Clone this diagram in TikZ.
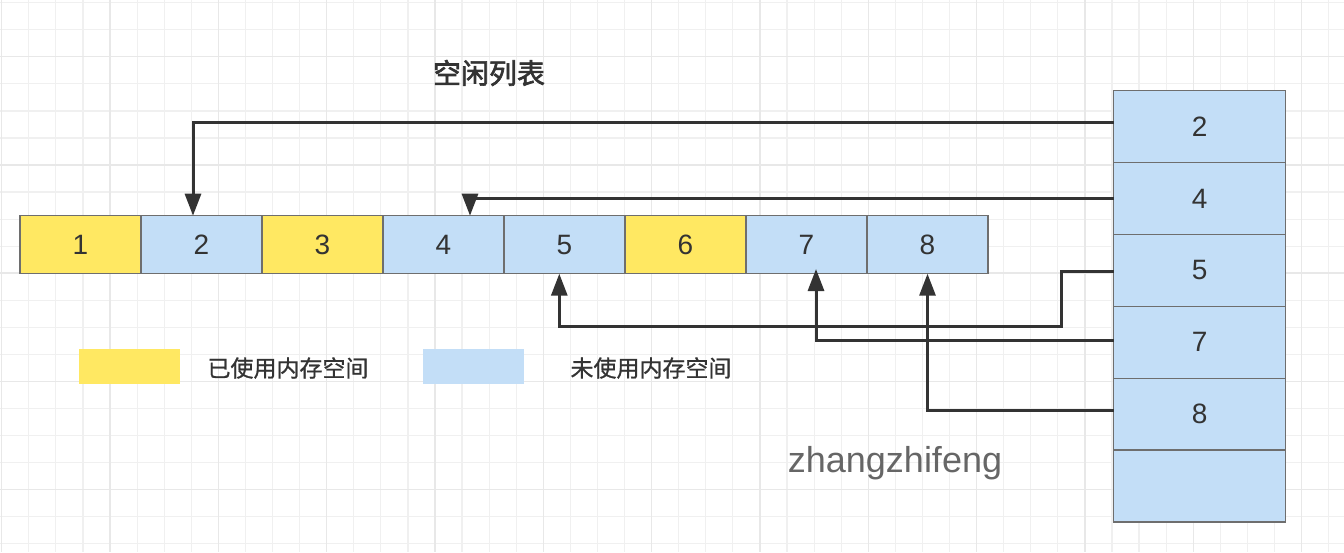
\documentclass[tikz,border=0pt]{standalone}
\usepackage{fontspec}
\setmainfont{Liberation Sans}
\newfontfamily\cjk[FakeBold=0.8]{Noto Sans CJK SC}
\newfontfamily\cjkt[FakeBold=2.2]{Noto Sans CJK SC}
\usetikzlibrary{arrows.meta,calc}
\definecolor{usedY}{HTML}{FFE862}
\definecolor{freeB}{HTML}{C3DEF7}
\definecolor{bord}{HTML}{6E6E6E}
\definecolor{ink}{HTML}{333333}
\definecolor{gridminor}{HTML}{F0F0F0}
\definecolor{gridmajor}{HTML}{E8E8E8}
\tikzset{
  cell/.style={draw=bord,line width=1.5pt,minimum width=121pt,minimum height=58pt,inner sep=0pt,outer sep=0pt,text=ink,font=\fontsize{28}{30}\selectfont,anchor=center},
  usedcell/.style={cell,fill=usedY},
  freecell/.style={cell,fill=freeB},
  listcell/.style={draw=bord,line width=1.5pt,fill=freeB,minimum width=172pt,minimum height=71.9pt,inner sep=0pt,outer sep=0pt,text=ink,font=\fontsize{28}{30}\selectfont},
  conn/.style={draw=ink,line width=3pt,-{Triangle[width=16pt,length=22pt]}},
  gminor/.style={draw=gridminor,line width=1.2pt},
  gmajor/.style={draw=gridmajor,line width=1.3pt},
  legtext/.style={text=ink,font=\cjk\fontsize{23}{25}\selectfont,inner sep=0pt}
}
\begin{document}
\begin{tikzpicture}[x=1pt,y=-1pt]
\useasboundingbox (0,0) rectangle (1344,552);
\fill[white] (0,0) rectangle (1344,552);
% grid
\foreach \i in {0,...,49} \draw[gminor] ({1.7+27.08*\i},0) -- ++(0,552);
\foreach \j in {0,...,20} \draw[gminor] (0,{2.7+27.05*\j}) -- ++(1344,0);
\foreach \i in {0,...,12} \draw[gmajor] ({1.7+108.32*\i},0) -- ++(0,552);
\foreach \j in {0,...,4} \draw[gmajor] (0,{56.7+108.2*\j}) -- ++(1344,0);
% title
\node[text=ink,font=\cjkt\fontsize{28}{30}\selectfont,inner sep=0pt] (title) at (489,73) {空闲列表};
% memory row
\node[usedcell] (c1) at (80.5,244.7) {1};
\node[freecell] (c2) at (201.5,244.7) {2};
\node[usedcell] (c3) at (322.5,244.7) {3};
\node[freecell] (c4) at (443.5,244.7) {4};
\node[freecell] (c5) at (564.5,244.7) {5};
\node[usedcell] (c6) at (685.5,244.7) {6};
\node[freecell] (c7) at (806.5,244.7) {7};
\node[freecell] (c8) at (927.5,244.7) {8};
% free list
\node[listcell] (r2) at (1199.7,126.6) {2};
\node[listcell] (r4) at (1199.7,198.5) {4};
\node[listcell] (r5) at (1199.7,270.4) {5};
\node[listcell] (r7) at (1199.7,342.3) {7};
\node[listcell] (r8) at (1199.7,414.2) {8};
\node[listcell] (r0) at (1199.7,486.1) {};
% legend
\node[fill=usedY,minimum width=101pt,minimum height=35pt,inner sep=0pt] (legU) at (129.5,366.5) {};
\node[legtext] (legUt) at (288,368) {已使用内存空间};
\node[fill=freeB,minimum width=101pt,minimum height=35pt,inner sep=0pt] (legF) at (473.5,366.5) {};
\node[legtext] (legFt) at (651,368) {未使用内存空间};
% watermark
\node[text=black!60,font=\fontsize{36}{38}\selectfont,inner sep=0pt,anchor=base] (wm) at (895,472) {zhangzhifeng};
% connectors
\coordinate (k5) at (1061.7,326);
\draw[conn] ([yshift=4pt]r2.west) -| ([xshift=-8.5pt]c2.north);
\draw[conn] (r4.west) -| ([xshift=26.5pt]c4.north);
\draw[conn] ([yshift=-1.3pt]r5.west) -| (k5) -| ([xshift=-5.2pt]c5.south);
\draw[conn] ([yshift=2.3pt]r7.west) -| ([xshift=9.5pt,yshift=4.7pt]c7.south);
\draw[conn] ([yshift=4.2pt]r8.west) -| (c8.south);
\end{tikzpicture}
\end{document}
